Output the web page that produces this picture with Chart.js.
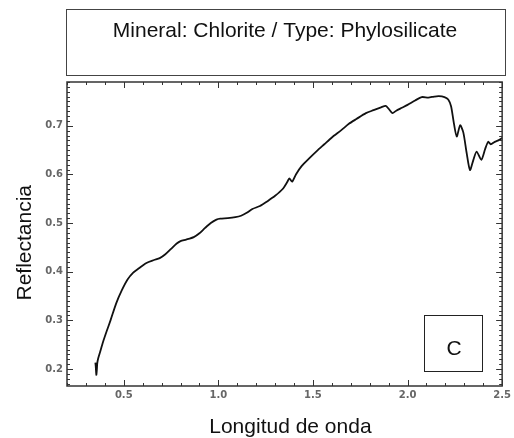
<!DOCTYPE html>
<html>
<head>
<meta charset="utf-8">
<script src="https://cdn.jsdelivr.net/npm/chart.js@4/dist/chart.umd.min.js"></script>
<style>
  html, body { margin: 0; padding: 0; background: #fff; }
  #wrap { width: 514px; height: 438px; }
</style>
</head>
<body>
<div id="wrap"><canvas id="spectrum"></canvas></div>
<script>
////////////////// Data ///////////////////////

const wavelength = [
  0.35, 0.352, 0.355, 0.358, 0.36, 0.365, 0.375, 0.39, 0.41, 0.43, 0.46, 0.49,
  0.52, 0.55, 0.58, 0.62, 0.66, 0.69, 0.72, 0.75, 0.78, 0.8, 0.83, 0.87, 0.9,
  0.93, 0.96, 0.99, 1.01, 1.05, 1.09, 1.12, 1.15, 1.18, 1.22, 1.26, 1.3, 1.34,
  1.365, 1.375, 1.39, 1.41, 1.44, 1.48, 1.52, 1.56, 1.6, 1.65, 1.69, 1.73,
  1.78, 1.82, 1.86, 1.885, 1.9, 1.92, 1.94, 1.97, 2.0, 2.04, 2.075, 2.11,
  2.14, 2.165, 2.195, 2.215, 2.23, 2.245, 2.26, 2.278, 2.295, 2.312, 2.33,
  2.348, 2.365, 2.39, 2.41, 2.426, 2.44, 2.461, 2.48, 2.5,
];

const reflectance = [
  0.213, 0.205, 0.188, 0.2, 0.212, 0.222, 0.235, 0.255, 0.278, 0.3, 0.335, 0.362,
  0.384, 0.398, 0.407, 0.418, 0.424, 0.428, 0.436, 0.447, 0.458, 0.463, 0.466, 0.471, 0.479,
  0.49, 0.5, 0.507, 0.509, 0.51, 0.512, 0.515, 0.521, 0.529, 0.535, 0.545, 0.556, 0.57,
  0.585, 0.592, 0.585, 0.6, 0.617, 0.633, 0.648, 0.662, 0.676, 0.691, 0.704, 0.714,
  0.726, 0.732, 0.738, 0.741, 0.735, 0.726, 0.731, 0.737, 0.743, 0.752, 0.759, 0.758,
  0.76, 0.761, 0.759, 0.754, 0.74, 0.705, 0.678, 0.701, 0.686, 0.645, 0.609,
  0.63, 0.647, 0.63, 0.652, 0.667, 0.662, 0.667, 0.67, 0.675,
];

const xTicks = [0.5, 1.0, 1.5, 2.0, 2.5];
const yTicks = [0.2, 0.3, 0.4, 0.5, 0.6, 0.7];

const titleText = "Mineral: Chlorite / Type: Phylosilicate";
const panelLabel = "C";

////////////////// Plugin: frame, inner ticks, boxes ///////////////////////

const frameAndBoxes = {
  id: "frameAndBoxes",
  beforeDraw(chart) {
    const ctx = chart.ctx;
    ctx.save();
    ctx.fillStyle = "#fff";
    ctx.fillRect(0, 0, chart.width, chart.height);
    ctx.restore();
  },
  afterDraw(chart) {
    const { ctx, chartArea: a, scales } = chart;
    const xs = scales.x;
    const ys = scales.y;
    ctx.save();

    // inner tick marks, on all four sides
    ctx.strokeStyle = "#333";
    ctx.lineWidth = 1;
    ctx.beginPath();
    for (let i = 2; i <= 25; i++) {
      const v = i / 10;
      const px = Math.round(xs.getPixelForValue(v)) + 0.5;
      const len = i % 5 === 0 ? 6 : 3;
      ctx.moveTo(px, a.bottom);
      ctx.lineTo(px, a.bottom - len);
      ctx.moveTo(px, a.top);
      ctx.lineTo(px, a.top + len);
    }
    for (let i = 17; i <= 79; i++) {
      const v = i / 100;
      const py = Math.round(ys.getPixelForValue(v)) + 0.5;
      const len = i % 10 === 0 ? 6 : 3;
      ctx.moveTo(a.left, py);
      ctx.lineTo(a.left + len, py);
      ctx.moveTo(a.right, py);
      ctx.lineTo(a.right - len, py);
    }
    ctx.stroke();

    // plot frame
    ctx.lineWidth = 1.5;
    ctx.strokeStyle = "#333";
    ctx.strokeRect(a.left, a.top, a.right - a.left, a.bottom - a.top);

    // title box
    ctx.lineWidth = 1;
    ctx.strokeStyle = "#444";
    ctx.strokeRect(66.5, 9.5, 439, 66);
    ctx.fillStyle = "#111";
    ctx.font = "21px 'Liberation Sans', Arial, sans-serif";
    ctx.textAlign = "center";
    ctx.textBaseline = "middle";
    ctx.fillText(titleText, 285, 31);

    // panel label box
    ctx.strokeStyle = "#222";
    ctx.strokeRect(424.5, 315.5, 58, 56);
    ctx.font = "21px 'Liberation Sans', Arial, sans-serif";
    ctx.fillText(panelLabel, 454, 349);

    ctx.restore();
  },
};

////////////////// Chart ///////////////////////

const renderSpectrumChart = function () {
  const ctx = document.getElementById("spectrum");
  const points = wavelength.map((w, i) => ({ x: w, y: reflectance[i] }));
  const tickFont = { family: "'DejaVu Sans', sans-serif", size: 10, weight: "bold" };
  const titleFont = { family: "'Liberation Sans', Arial, sans-serif", size: 21, lineHeight: 1 };

  new Chart(ctx, {
    type: "line",
    data: {
      datasets: [
        {
          label: "Chlorite",
          data: points,
          borderColor: "#111",
          borderWidth: 1.8,
          pointRadius: 0,
          tension: 0.25,
          fill: false,
        },
      ],
    },
    options: {
      responsive: true,
      maintainAspectRatio: false,
      animation: false,
      layout: { padding: { top: 82, right: 8, bottom: 0, left: 0 } },
      scales: {
        x: {
          type: "linear",
          min: 0.2,
          max: 2.5,
          afterFit: (s) => { s.height = 52; },
          afterBuildTicks: (s) => { s.ticks = xTicks.map((v) => ({ value: v })); },
          grid: { display: false, drawTicks: false },
          border: { display: false },
          ticks: {
            padding: 3,
            color: "#666",
            font: tickFont,
            maxRotation: 0,
            callback: (v) => Number(v).toFixed(1),
          },
          title: {
            display: true,
            // leading spaces nudge the centred label right, as in the original
            text: "  Longitud de onda",
            color: "#111",
            font: titleFont,
            padding: { top: 0, bottom: 0 },
          },
        },
        y: {
          type: "linear",
          min: 0.165,
          max: 0.79,
          afterFit: (s) => { s.width = 67; },
          afterBuildTicks: (s) => { s.ticks = yTicks.map((v) => ({ value: v })); },
          grid: { display: false, drawTicks: false },
          border: { display: false },
          ticks: {
            padding: 4,
            color: "#666",
            font: tickFont,
            callback: (v) => Number(v).toFixed(1),
          },
          title: {
            display: true,
            // trailing spaces nudge the rotated label down
            text: "Reflectancia   ",
            color: "#111",
            font: titleFont,
            padding: { top: 15, bottom: 0 },
          },
        },
      },
      plugins: {
        legend: { display: false },
        tooltip: { enabled: false },
      },
    },
    plugins: [frameAndBoxes],
  });
};

renderSpectrumChart();
</script>
</body>
</html>
